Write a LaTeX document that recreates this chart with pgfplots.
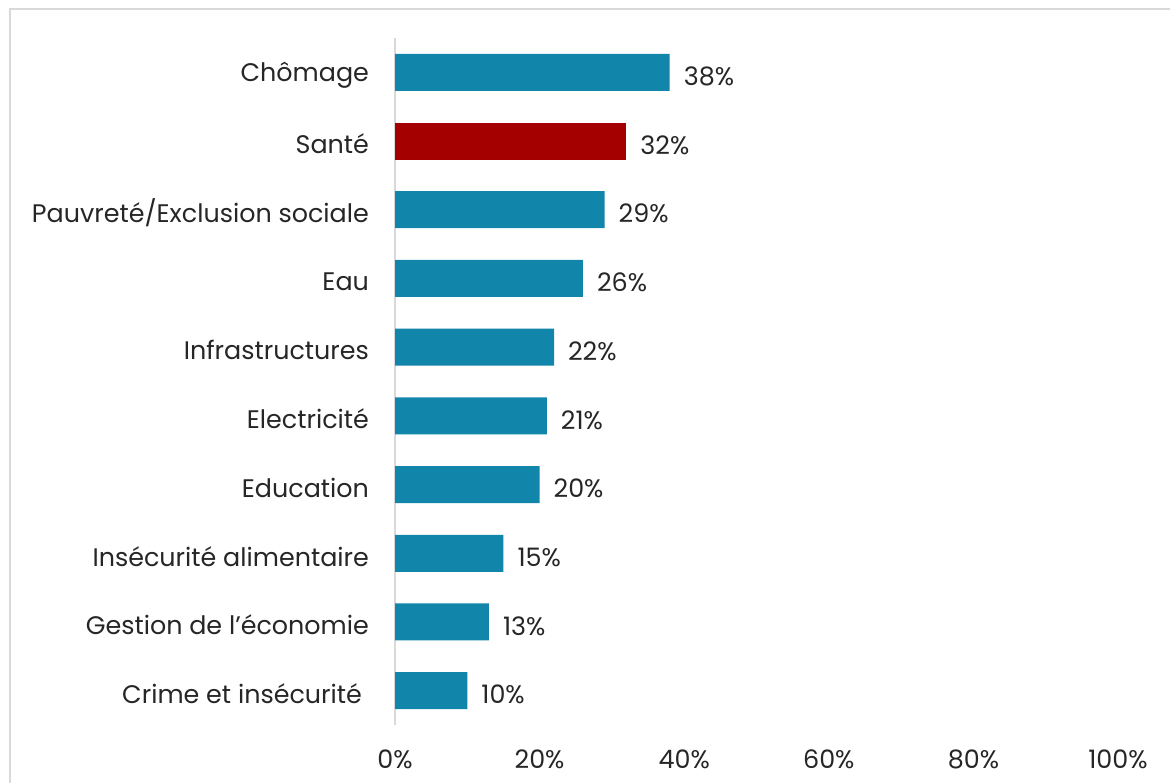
\documentclass[border=0pt]{standalone}
\usepackage{fontspec}
\setmainfont{Poppins}
\usepackage{pgfplots}
\pgfplotsset{compat=1.18}
\definecolor{barblue}{HTML}{1185AA}
\definecolor{barred}{HTML}{A50000}
\definecolor{framegray}{HTML}{D9D9D9}
\begin{document}
\begin{tikzpicture}
\begin{axis}[
  at={(197.5pt,28.5pt)}, anchor=south west,
  scale only axis, width=361.5pt, height=343.5pt,
  xbar, bar width=18.5pt, bar shift=0pt,
  xmin=0, xmax=100, ymin=-0.5, ymax=9.5,
  y dir=reverse,
  axis x line*=bottom, axis y line*=left,
  x axis line style={draw=none},
  y axis line style={draw=framegray, line width=1pt},
  xtick={0,20,40,60,80,100},
  xticklabel={\pgfmathprintnumber{\tick}\%},
  xticklabel style={yshift=-9pt},
  ytick={0,...,9},
  yticklabels={Chômage,Santé,Pauvreté/Exclusion sociale,Eau,Infrastructures,Electricité,Education,Insécurité alimentaire,Gestion de l’économie,Crime et insécurité\kern3.5pt},
  yticklabel style={xshift=-9.5pt, yshift=-1.5pt},
  major tick length=0pt,
  tick style={draw=none},
  /pgf/number format/assume math mode=true,
  ticklabel style={font=\fontsize{12.7}{15}\selectfont, text=black!85},
  nodes near coords={\pgfmathprintnumber{\pgfplotspointmeta}\%},
  nodes near coords style={font=\fontsize{12.7}{15}\selectfont, text=black!85, anchor=west, xshift=3.5pt, yshift=-2pt},
  point meta=x,
  clip=false,
]
\addplot[fill=barblue, draw=none] coordinates {(38,0) (29,2) (26,3) (22,4) (21,5) (20,6) (15,7) (13,8) (10,9)};
\addplot[fill=barred, draw=none] coordinates {(32,1)};
\end{axis}
\draw[framegray, line width=1pt] (4.75pt,-5pt) -- (4.75pt,386.25pt) -- (590pt,386.25pt);
\pgfresetboundingbox
\useasboundingbox (0,0) rectangle (585pt,391pt);
\end{tikzpicture}
\end{document}
